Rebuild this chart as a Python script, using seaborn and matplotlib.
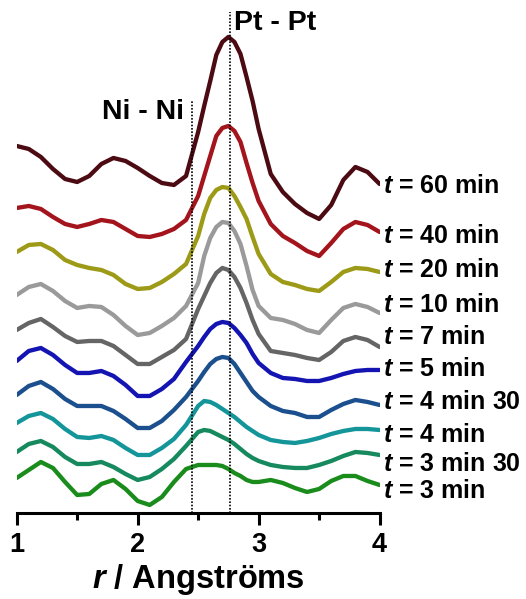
import numpy as np
import pandas as pd
import seaborn as sns
import matplotlib.pyplot as plt
from matplotlib.ticker import MultipleLocator

# r grid (Angstroms), denser around the Pt-Pt peak
r = [1.0, 1.1, 1.2, 1.3, 1.4, 1.5, 1.6, 1.7, 1.8, 1.9, 2.0, 2.1, 2.2, 2.3, 2.4, 2.5,
     2.55, 2.6, 2.65, 2.7, 2.75, 2.8, 2.85, 2.9, 2.95,
     3.0, 3.1, 3.2, 3.3, 3.4, 3.5, 3.6, 3.7, 3.8, 3.9, 4.0]

# stacked G(r) traces (arbitrary units, offsets included)
g_60 = [367, 364, 356, 344, 334, 331, 337, 349, 355, 352, 345, 337, 330, 328, 337, 381,
        407, 432, 458, 471, 476, 471, 459, 436, 412,
        384, 339, 321, 309, 300, 294, 308, 333, 346, 341, 329]
g_40 = [305, 307, 304, 296, 289, 286, 289, 293, 291, 284, 277, 276, 279, 284, 293, 317,
        337, 357, 377, 385, 387, 382, 371, 350, 330,
        312, 289, 277, 270, 262, 257, 270, 284, 291, 288, 281]
g_20 = [261, 268, 269, 263, 253, 248, 245, 243, 238, 229, 224, 225, 231, 239, 249, 277,
        299, 315, 323, 326, 325, 317, 306, 294, 276,
        259, 239, 231, 228, 224, 222, 231, 241, 245, 244, 241]
g_10 = [218, 226, 229, 222, 212, 205, 207, 206, 198, 187, 178, 180, 187, 195, 207, 230,
        257, 275, 286, 291, 290, 282, 269, 247, 223,
        207, 195, 193, 189, 183, 180, 193, 205, 209, 206, 200]
g_7 = [183, 190, 194, 186, 177, 171, 172, 172, 167, 158, 149, 149, 156, 163, 174, 204,
       217, 230, 240, 245, 243, 236, 225, 210, 193,
       179, 162, 160, 158, 155, 153, 161, 172, 176, 173, 166]
g_5 = [152, 162, 165, 158, 148, 140, 140, 142, 137, 128, 117, 117, 124, 134, 151, 167,
       176, 184, 189, 191, 190, 185, 178, 170, 159,
       150, 140, 135, 134, 132, 132, 135, 139, 142, 143, 143]
g_4m30 = [118, 127, 131, 124, 114, 107, 107, 107, 102, 94, 85, 85, 92, 103, 116, 132,
          141, 149, 154, 156, 155, 149, 140, 131, 122,
          116, 107, 102, 100, 96, 96, 103, 109, 113, 111, 108]
g_4 = [90, 97, 100, 94, 84, 76, 75, 77, 73, 65, 58, 58, 65, 74, 88, 107,
       112, 111, 108, 104, 100, 96, 91, 86, 82,
       78, 73, 71, 70, 72, 75, 79, 82, 84, 84, 83]
g_3m30 = [61, 69, 72, 66, 56, 49, 49, 51, 46, 39, 33, 36, 44, 54, 67, 81,
          83, 82, 79, 76, 73, 69, 64, 59, 55,
          52, 48, 46, 45, 45, 48, 52, 57, 61, 60, 58]
g_3 = [35, 43, 51, 45, 31, 18, 19, 29, 33, 24, 12, 8, 16, 31, 44, 48,
       48, 48, 48, 47, 44, 40, 37, 33, 31,
       31, 33, 30, 25, 21, 24, 32, 37, 37, 32, 28]

series = ["60 min", "40 min", "20 min", "10 min", "7 min",
          "5 min", "4 min 30", "4 min", "3 min 30", "3 min"]
traces = [g_60, g_40, g_20, g_10, g_7, g_5, g_4m30, g_4, g_3m30, g_3]
colors = ["#4c0a12", "#a3141c", "#9c9a16", "#9a9a9a", "#656565",
          "#1414b2", "#1b4f8e", "#14959a", "#168a5e", "#1a8c1c"]
label_y = [327, 277, 243, 208, 176, 144, 111, 78, 49, 22]

rows = []
for name, g in zip(series, traces):
    for x, y in zip(r, g):
        rows.append({"r": x, "G": y, "t": name})
df = pd.DataFrame(rows)

sns.set_style("ticks")
plt.rcParams["font.family"] = ["Liberation Sans", "DejaVu Sans"]
plt.rcParams["font.weight"] = "bold"
plt.rcParams["text.color"] = "black"
plt.rcParams["axes.labelcolor"] = "black"
plt.rcParams["xtick.color"] = "black"
plt.rcParams["mathtext.fontset"] = "custom"
plt.rcParams["mathtext.it"] = "Liberation Sans:italic:bold"
plt.rcParams["mathtext.rm"] = "Liberation Sans:bold"
plt.rcParams["mathtext.bf"] = "Liberation Sans:bold"

fig = plt.figure(figsize=(5.26, 5.99), dpi=100)
ax = fig.add_axes([0.0317, 0.1436, 0.690, 0.8364])

sns.lineplot(data=df, x="r", y="G", hue="t", hue_order=series,
             palette=dict(zip(series, colors)), estimator=None,
             linewidth=3.1, legend=False, ax=ax,
             solid_joinstyle="round", solid_capstyle="round")

# bond distance markers
ax.plot([2.76, 2.76], [0, 501], color="black", linestyle=(0, (1, 1)), linewidth=1.2)
ax.plot([2.45, 2.45], [0, 413], color="black", linestyle=(0, (1, 1)), linewidth=1.2)
ax.text(2.38, 401, "Ni - Ni", ha="right", va="center", fontsize=20.5, fontweight="bold")
ax.text(2.80, 490, "Pt - Pt", ha="left", va="center", fontsize=20.5, fontweight="bold")

for name, y in zip(series, label_y):
    ax.text(4.025, y, "$t$ = " + name, ha="left", va="center",
            fontsize=18, fontweight="bold", clip_on=False)

ax.set_xlim(1, 4)
ax.set_ylim(0, 501)
ax.set_yticks([])
ax.xaxis.set_major_locator(MultipleLocator(1))
ax.xaxis.set_minor_locator(MultipleLocator(0.5))
ax.tick_params(axis="x", which="major", direction="out", length=8.5, width=2.2,
               labelsize=19.5, pad=5, color="black")
ax.tick_params(axis="x", which="minor", direction="out", length=5, width=2.2, color="black")
for s in ["left", "right", "top"]:
    ax.spines[s].set_visible(False)
ax.spines["bottom"].set_linewidth(2.2)
ax.spines["bottom"].set_color("black")
ax.set_ylabel("")
ax.set_xlabel("$r$ / Angströms", fontsize=23.5, fontweight="bold", labelpad=3)
ax.patch.set_alpha(0)

fig.savefig("out.png", dpi=100)
